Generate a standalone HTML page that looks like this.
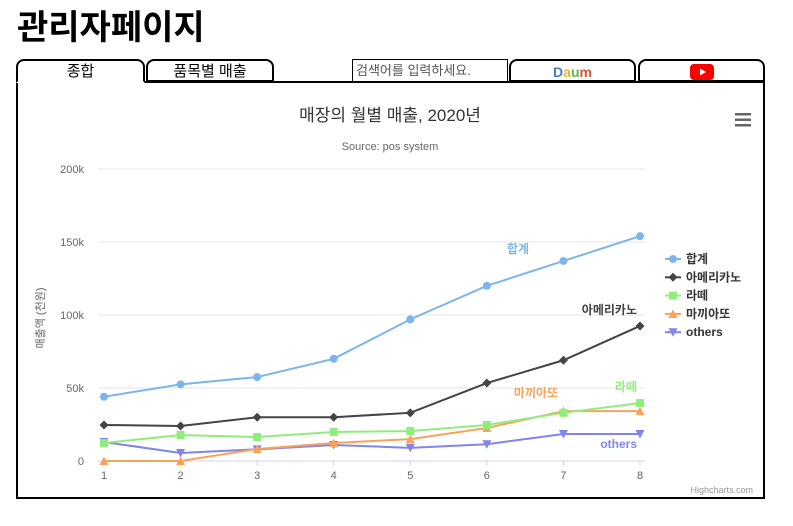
<!DOCTYPE html>
<html><head><meta charset="utf-8"><style>
body{margin:0;width:793px;height:526px;background:#fff;font-family:"Liberation Sans","Noto Sans CJK KR",sans-serif;position:relative;overflow:hidden}
.h1{position:absolute;left:17px;top:0px;font-size:34px;font-weight:bold;color:#000}
.tab{position:absolute;top:59px;height:21px;border:2px solid #000;border-bottom:none;border-radius:8px 8px 0 0;text-align:center;font-size:15px;line-height:22px;background:#fff;box-sizing:border-box}
.box{position:absolute;left:16px;top:81px;width:749px;height:418px;border:2px solid #000;box-sizing:border-box;border-top:2px solid #000}
</style></head><body>
<div class="h1">관리자페이지</div>
<div class="box"></div>
<div class="tab" style="left:16px;width:129px;height:24px;border-bottom:2px solid #fff;z-index:2">종합</div>
<div class="tab" style="left:146px;width:128px;border-bottom:2px solid #000;height:23px">품목별 매출</div>
<div style="position:absolute;left:352px;top:59px;width:156px;height:23px;border:1px solid #000;box-sizing:border-box;font-size:13px;color:#555;line-height:21px;padding-left:3px">검색어를 입력하세요.</div>
<div class="tab" style="left:509px;width:127px;border-bottom:2px solid #000;height:23px"><span style="font-weight:bold;font-size:14px;color:#4a7bd0">D<span style="color:#e9b52a">a</span><span style="color:#54b74a">u</span><span style="color:#e0503a">m</span></span></div>
<div class="tab" style="left:638px;width:127px;border-bottom:2px solid #000;height:23px"><svg width="24" height="16" style="margin-top:3px"><rect width="24" height="16" rx="4" fill="#f00"/><path d="M10 4.5L16 8L10 11.5Z" fill="#fff"/></svg></div>
<svg id="chart" width="793" height="526" style="position:absolute;left:0;top:0">
<text x="390" y="121" text-anchor="middle" font-size="17" fill="#333">매장의 월별 매출, 2020년</text>
<text x="390" y="150" text-anchor="middle" font-size="11" fill="#666">Source: pos system</text>
<g><rect x="735" y="113" width="16" height="2.5" fill="#666"/><rect x="735" y="118.5" width="16" height="2.5" fill="#666"/><rect x="735" y="124" width="16" height="2.5" fill="#666"/></g>
<text x="44" y="318" transform="rotate(-90 44 318)" text-anchor="middle" font-size="11" fill="#666">매출액 (천원)</text>
<text x="753" y="493" text-anchor="end" font-size="9" fill="#999">Highcharts.com</text>
<g id="g"></g>
</svg>
<script>
const months=[1,2,3,4,5,6,7,8];
const yTicks=[0,50000,100000,150000,200000];
const yTickLabels=["0","50k","100k","150k","200k"];
const names=["합계","아메리카노","라떼","마끼아또","others"];
const total=[44000,52500,57500,70000,97000,120000,137000,154000];
const americano=[24700,24000,30000,30000,33000,53400,69000,92500];
const latte=[12300,17800,16400,19900,20500,24700,33000,39700];
const macchiato=[0,0,8200,12300,15000,22600,34200,34200];
const others=[13000,5500,8000,11000,9000,11500,18500,18500];
const series=[total,americano,latte,macchiato,others];
const colors=["#7cb5ec","#434348","#90ed7d","#f7a35c","#8085e9"];
const shapes=["circle","diamond","square","triangle","tri-down"];
const X=v=>104+(v-1)*(640-104)/7, Y=v=>461-v*(461-169)/200000;
const g=document.getElementById('g');const NS="http://www.w3.org/2000/svg";
function mk(t,a,p){const e=document.createElementNS(NS,t);for(const k in a)e.setAttribute(k,a[k]);(p||g).appendChild(e);return e;}
yTicks.forEach((t,i)=>{
 const l=mk('line',{x1:98,x2:645,y1:Y(t),y2:Y(t),stroke:i?'#e6e6e6':'#ccd6eb'});
 
 
 const tx=mk('text',{x:84,y:Y(t)+4,'text-anchor':'end','font-size':11,fill:'#666'});tx.textContent=yTickLabels[i];
 
 
});
months.forEach(m=>{
 const tl=mk('line',{x1:X(m),x2:X(m),y1:461,y2:466,stroke:'#ccd6eb'});
 
 
 const tx=mk('text',{x:X(m),y:479,'text-anchor':'middle','font-size':11,fill:'#666'});tx.textContent=m;
 
 
});
function marker(s,x,y,c,par){
 let e;
 if(s=='circle')e=mk('circle',{cx:x,cy:y,r:4,fill:c},par);
 else if(s=='diamond')e=mk('path',{d:`M${x} ${y-4.5}L${x+4.5} ${y}L${x} ${y+4.5}L${x-4.5} ${y}Z`,fill:c},par);
 else if(s=='square')e=mk('rect',{x:x-4,y:y-4,width:8,height:8,fill:c},par);
 else if(s=='triangle')e=mk('path',{d:`M${x} ${y-4.5}L${x+4.5} ${y+4}L${x-4.5} ${y+4}Z`,fill:c},par);
 else e=mk('path',{d:`M${x} ${y+4.5}L${x+4.5} ${y-4}L${x-4.5} ${y-4}Z`,fill:c},par);
 return e;
}
for(let si=series.length-1;si>=0;si--){
 const d=series[si];const grp=mk('g',{});
 
 
 const p=mk('path',{d:d.map((v,i)=>(i?'L':'M')+X(months[i])+' '+Y(v)).join(''),stroke:colors[si],'stroke-width':2,fill:'none'},grp);
 
 
 d.forEach((v,i)=>{const m=marker(shapes[si],X(months[i]),Y(v),colors[si],grp);
 
 });
}
const labPos=[[518,total[6],-8,'middle'],[637,americano[7],-12,'end'],[637,latte[7],-12,'end'],[536,macchiato[6],-14,'middle'],[637,others[7],14,'end']];
labPos.forEach((p,i)=>{const t=mk('text',{x:p[0],y:Y(p[1])+p[2],'text-anchor':p[3],'font-size':12,'font-weight':'bold',fill:colors[i]});t.textContent=names[i];
 
 });
names.forEach((n,i)=>{const gy=259+i*18.3;const lg=mk('g',{});
 
 
 mk('line',{x1:665,x2:681,y1:gy,y2:gy,stroke:colors[i],'stroke-width':2},lg);
 marker(shapes[i],673,gy,colors[i],lg);
 const t=mk('text',{x:686,y:gy+4,'font-size':12,'font-weight':'bold',fill:'#333'},lg);t.textContent=n;});
</script>
</body></html>
